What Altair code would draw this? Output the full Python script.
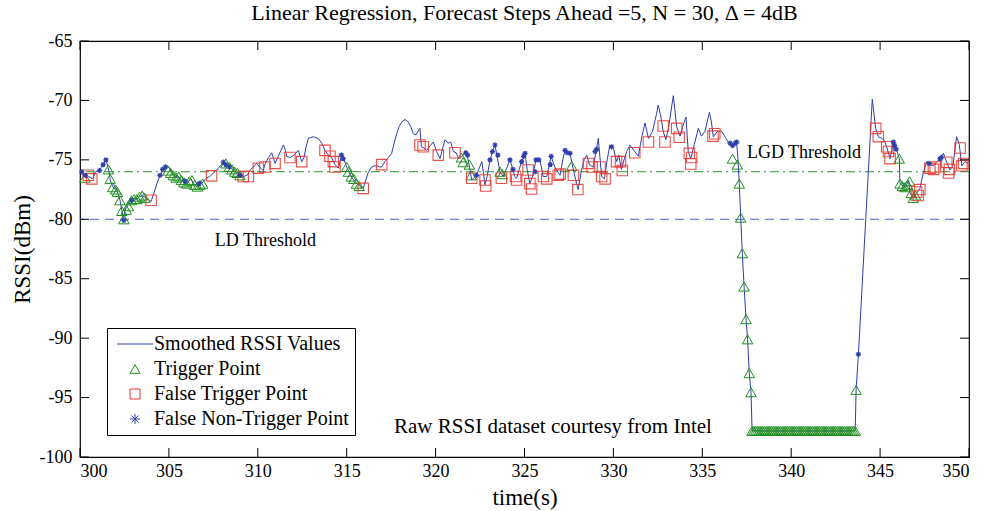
import altair as alt
import pandas as pd

# ---------------- data ----------------
line_t = [300.05, 300.2, 300.35, 300.5, 300.7, 300.9, 301.07, 301.2, 301.35, 301.46, 301.55, 301.62, 301.7, 301.8,
          301.9, 302.05, 302.15, 302.25, 302.35, 302.44, 302.52, 302.6, 302.7, 302.8, 302.9, 303.05, 303.2, 303.35,
          303.5, 303.6, 303.75, 303.9, 304.0, 304.2, 304.35, 304.5, 304.65, 304.78, 304.9, 305.0, 305.15, 305.25,
          305.4, 305.55, 305.7, 305.8, 305.95, 306.1, 306.25, 306.4, 306.56, 306.7, 306.84, 307.0, 307.1, 307.3,
          307.5, 307.7, 307.9, 308.06, 308.2, 308.4, 308.55, 308.7, 308.9, 309.05, 309.2, 309.4, 309.6, 309.75,
          309.94, 310.1, 310.3, 310.4, 310.6, 310.78, 310.97, 311.15, 311.3, 311.44, 311.55, 311.62, 311.8, 311.95,
          312.1, 312.28, 312.47, 312.6, 312.7, 312.84, 313.12, 313.4, 313.6, 313.78, 313.97, 314.15, 314.34, 314.53,
          314.72, 314.85, 315.0, 315.15, 315.3, 315.45, 315.6, 315.75, 315.93, 316.05, 316.2, 316.4, 316.55, 316.7,
          316.85, 316.96, 317.15, 317.35, 317.53, 317.7, 317.81, 317.95, 318.1, 318.28, 318.45, 318.6, 318.75, 318.9,
          319.05, 319.12, 319.2, 319.35, 319.5, 319.7, 319.87, 320.06, 320.25, 320.4, 320.53, 320.7, 320.85, 321.0,
          321.15, 321.3, 321.5, 321.66, 321.8, 321.9, 322.03, 322.15, 322.3, 322.45, 322.6, 322.7, 322.78, 322.9,
          323.06, 323.2, 323.34, 323.48, 323.62, 323.8, 324.0, 324.18, 324.35, 324.45, 324.56, 324.7, 324.84, 325.03,
          325.15, 325.3, 325.45, 325.65, 325.85, 326.05, 326.25, 326.5, 326.7, 327.0, 327.15, 327.28, 327.45, 327.56,
          327.75, 327.93, 328.02, 328.2, 328.35, 328.5, 328.65, 328.85, 329.0, 329.15, 329.34, 329.5, 329.65, 329.8,
          330.0, 330.18, 330.3, 330.45, 330.6, 330.75, 330.93, 331.15, 331.4, 331.6, 331.78, 331.97, 332.2, 332.43,
          332.52, 332.65, 332.8, 332.95, 333.1, 333.37, 333.56, 333.75, 333.9, 334.08, 334.21, 334.35, 334.55, 334.78,
          334.95, 335.15, 335.4, 335.5, 335.62, 335.85, 336.09, 336.3, 336.45, 336.56, 336.7, 336.85, 336.93, 337.0,
          337.08, 337.16, 337.25, 337.35, 337.46, 337.55, 337.64, 337.74, 337.8, 343.6, 343.65, 343.78, 344.56,
          344.75, 344.9, 345.1, 345.25, 345.37, 345.56, 345.75, 345.9, 346.08, 346.12, 346.3, 346.45, 346.6, 346.68,
          346.87, 347.05, 347.24, 347.43, 347.62, 347.8, 348.0, 348.2, 348.37, 348.56, 348.75, 348.93, 349.1, 349.3,
          349.45, 349.6, 349.77, 349.95]
line_v = [-76.1, -76.3, -76.5, -76.4, -76.6, -76.0, -75.9, -75.6, -75.3, -75.0, -75.5, -75.9, -76.7, -77.1,
          -77.4, -77.5, -77.9, -78.4, -79.2, -80.1, -79.3, -79.0, -78.8, -78.5, -78.4, -78.2, -78.3, -78.1,
          -78.0, -78.1, -78.3, -78.4, -78.5, -77.6, -76.9, -76.3, -75.8, -75.6, -75.5, -75.6, -76.0, -76.3,
          -76.5, -76.4, -76.7, -76.8, -77.0, -76.8, -76.6, -77.0, -77.25, -77.1, -77.0, -76.7, -76.55, -76.4,
          -76.1, -75.85, -75.5, -75.2, -75.3, -75.6, -75.8, -76.0, -76.1, -76.3, -76.4, -76.3, -75.8, -75.6,
          -75.3, -75.6, -75.9, -75.4, -74.8, -74.4, -75.3, -74.7, -74.2, -73.75, -74.2, -74.7, -74.8, -74.7,
          -74.5, -74.2, -75.15, -74.8, -74.0, -73.2, -73.05, -73.2, -73.6, -74.2, -74.6, -74.8, -75.4, -75.7,
          -74.6, -75.0, -75.6, -76.1, -76.5, -76.8, -77.0, -77.25, -77.4, -76.8, -76.1, -75.6, -75.5, -75.5,
          -75.6, -75.6, -75.15, -74.8, -74.45, -73.4, -72.8, -72.2, -71.8, -71.6, -71.8, -72.2, -72.8, -72.9,
          -72.5, -72.35, -73.9, -74.0, -74.2, -73.8, -73.5, -74.3, -74.9, -74.0, -73.3, -73.6, -73.5, -74.3,
          -74.4, -74.9, -74.7, -74.3, -74.8, -75.5, -76.7, -76.5, -76.3, -75.7, -75.15, -76.2, -77.1, -76.4,
          -75.0, -74.3, -73.75, -74.9, -76.0, -76.4, -75.7, -75.0, -75.8, -76.4, -76.55, -75.8, -75.15, -74.45,
          -75.8, -77.0, -76.4, -75.0, -74.9, -76.4, -76.4, -74.7, -75.6, -76.3, -75.0, -74.2, -74.4, -74.45,
          -75.85, -77.0, -77.5, -75.9, -75.0, -74.6, -75.4, -75.6, -74.5, -73.2, -76.4, -76.6, -75.0, -73.75,
          -74.0, -75.15, -74.6, -75.8, -75.0, -74.3, -73.75, -74.2, -74.7, -73.05, -71.9, -73.2, -72.6, -71.1,
          -70.4, -71.2, -72.6, -73.3, -72.3, -69.6, -72.2, -73.0, -72.2, -71.4, -74.3, -74.9, -73.7, -72.35,
          -73.0, -72.6, -71.0, -71.7, -73.05, -72.6, -72.6, -73.1, -73.5, -73.6, -74.0, -73.7, -73.5, -74.8,
          -77.0, -79.86, -82.86, -85.66, -88.4, -90.1, -92.95, -94.55, -97.8, -97.8, -94.35, -91.35, -69.9,
          -72.35, -73.05, -73.2, -73.4, -73.9, -74.9, -73.5, -74.0, -74.9, -77.0, -77.2, -77.3, -76.7, -77.8,
          -78.2, -77.8, -77.4, -76.1, -75.15, -75.4, -75.5, -75.15, -74.9, -74.45, -75.2, -75.85, -75.5, -73.05,
          -73.7, -75.5, -75.15, -75.3]

trig_t = [300.28, 301.6, 301.7, 301.84, 302.0, 302.1, 302.25, 302.35, 302.47, 302.6, 302.72, 302.9, 303.05,
          303.2, 303.35, 303.5, 303.65, 304.95, 305.1, 305.25, 305.4, 305.55, 305.7, 305.85, 306.0, 306.15,
          306.3, 306.45, 306.6, 306.75, 306.9, 308.2, 308.4, 308.55, 308.7, 308.85, 309.0, 315.0, 315.1,
          315.25, 315.4, 315.55, 315.7, 321.45, 321.55, 321.9, 322.0, 323.62, 323.75, 327.65, 336.7, 336.97,
          337.08, 337.16, 337.25, 337.35, 337.46, 337.55, 337.64, 337.74,
          337.8, 337.9, 338.0, 338.1, 338.2, 338.3, 338.4, 338.5, 338.6, 338.7, 338.8, 338.9, 339.0, 339.1,
          339.2, 339.3, 339.4, 339.5, 339.6, 339.7, 339.8, 339.9, 340.0, 340.1, 340.2, 340.3, 340.4, 340.5,
          340.6, 340.7, 340.8, 340.9, 341.0, 341.1, 341.2, 341.3, 341.4, 341.5, 341.6, 341.7, 341.8, 341.9,
          342.0, 342.1, 342.2, 342.3, 342.4, 342.5, 342.6, 342.7, 342.8, 342.9, 343.0, 343.1, 343.2, 343.3,
          343.4, 343.5, 343.6,
          343.65, 346.08, 346.12, 346.25, 346.4, 346.55, 346.65, 346.75, 346.87, 347.0]
trig_v = [-76.5, -75.8, -76.6, -77.3, -77.5, -77.7, -78.4, -79.3, -80.0, -79.2, -78.9, -78.4, -78.3,
          -78.3, -78.1, -78.0, -78.2, -75.9, -76.1, -76.3, -76.5, -76.4, -76.7, -76.9, -77.0, -76.8,
          -76.7, -77.1, -77.25, -77.1, -77.0, -75.3, -75.6, -75.8, -76.0, -76.1, -76.3, -75.6, -76.0,
          -76.4, -76.6, -77.0, -77.2, -74.8, -75.2, -75.4, -76.3, -76.0, -76.2, -75.5, -74.9, -75.4,
          -77.0, -79.86, -82.86, -85.66, -88.4, -90.1, -92.95, -94.55,
          -97.8, -97.8, -97.8, -97.8, -97.8, -97.8, -97.8, -97.8, -97.8, -97.8, -97.8, -97.8, -97.8, -97.8,
          -97.8, -97.8, -97.8, -97.8, -97.8, -97.8, -97.8, -97.8, -97.8, -97.8, -97.8, -97.8, -97.8, -97.8,
          -97.8, -97.8, -97.8, -97.8, -97.8, -97.8, -97.8, -97.8, -97.8, -97.8, -97.8, -97.8, -97.8, -97.8,
          -97.8, -97.8, -97.8, -97.8, -97.8, -97.8, -97.8, -97.8, -97.8, -97.8, -97.8, -97.8, -97.8, -97.8,
          -97.8, -97.8, -97.8,
          -94.35, -74.9, -77.0, -77.2, -77.3, -77.1, -76.8, -77.8, -78.2, -78.0]

false_t = [300.47, 300.66, 304.0, 307.4, 309.18, 309.47, 310.03, 310.4, 310.97, 311.81, 312.47, 313.78, 314.06,
           314.25, 314.34, 315.93, 316.97, 319.12, 319.3, 320.15, 321.09, 322.03, 322.78, 322.82, 323.7, 324.5,
           324.56, 325.2, 325.3, 325.4, 326.06, 326.25, 326.9, 327.0, 327.75, 328.0, 328.6, 328.8, 329.25,
           329.34, 329.53, 330.18, 330.4, 330.5, 331.2, 331.97, 332.8, 332.9, 333.56, 333.7, 334.27, 334.4,
           334.35, 335.6, 335.7, 344.75, 344.9, 345.37, 345.47, 345.56, 347.05, 347.15, 347.24, 347.8, 348.0,
           348.1, 348.75, 348.9, 348.85, 349.5, 349.6, 349.7]
false_v = [-76.3, -76.6, -78.4, -76.35, -76.4, -76.4, -75.7, -75.6, -75.3, -74.8, -75.15, -74.2, -74.7,
           -75.15, -75.6, -77.4, -75.4, -73.75, -73.9, -74.6, -74.4, -76.55, -76.7, -77.2, -76.55, -76.4,
           -76.7, -75.85, -77.0, -77.45, -76.4, -76.6, -76.3, -76.2, -76.3, -77.5, -75.3, -75.6, -75.6,
           -76.4, -76.6, -75.15, -75.15, -75.9, -74.4, -73.5, -72.15, -73.5, -72.35, -73.1, -74.45, -74.8,
           -75.35, -73.0, -72.8, -72.35, -73.05, -73.9, -74.3, -74.9, -77.7, -78.0, -77.5, -75.7, -75.8,
           -75.6, -75.2, -75.8, -76.1, -74.0, -75.5, -75.3]

fnt_t = [300.1, 300.3, 301.1, 301.3, 301.46, 302.47, 302.9, 304.5, 304.65, 304.8, 305.9, 306.7, 308.06, 308.2,
         308.4, 309.0, 314.7, 314.8, 321.7, 321.8, 322.3, 323.06, 323.2, 323.34, 323.5, 324.18, 324.35, 324.84,
         324.95, 325.03, 325.6, 325.65, 325.8, 326.45, 326.5, 327.28, 327.4, 327.56, 328.97, 329.06, 329.9,
         336.56, 336.7, 336.85, 336.93, 343.78, 345.75, 345.82, 345.9, 347.75, 348.37, 348.45]
fnt_v = [-76.0, -76.3, -75.9, -75.4, -75.0, -80.1, -78.4, -76.3, -75.8, -75.6, -76.8, -77.0, -75.2, -75.4,
         -75.6, -76.3, -74.6, -74.9, -74.4, -74.6, -76.3, -75.0, -74.3, -73.75, -74.6, -75.0, -75.8, -75.15,
         -74.7, -74.45, -76.0, -75.0, -75.0, -75.4, -74.7, -74.2, -74.4, -74.45, -74.3, -74.1, -73.9,
         -73.6, -73.8, -73.6, -73.5, -91.35, -73.5, -73.8, -74.1, -75.3, -74.9, -74.8]

series_names = ["Smoothed RSSI Values", "Trigger Point", "False Trigger Point", "False Non-Trigger Point"]
x_ticks = [300, 305, 310, 315, 320, 325, 330, 335, 340, 345, 350]
y_ticks = [-100, -95, -90, -85, -80, -75, -70, -65]
ld_threshold = -80
lgd_threshold = -76
notes_text = ["LD Threshold", "LGD Threshold", "Raw RSSI dataset courtesy from Intel"]
notes_t = [310.43, 340.72, 326.6]
notes_v = [-81.8, -74.42, -97.46]
notes_size = [18, 18, 21]

# ---------------- styling ----------------
FONT = "Liberation Serif"
W, H = 889, 416
BLUE = "#2e3fad"
GREEN = "#1f8f1f"
RED = "#e8322a"
STAR_PATH = "M-1,0L1,0M0,-1L0,1M-0.7,-0.7L0.7,0.7M-0.7,0.7L0.7,-0.7"
LINE_PATH = "M-3.6,0L3.6,0"

line_df = pd.DataFrame({"t": line_t, "v": line_v, "series": series_names[0]})
trig_df = pd.DataFrame({"t": trig_t, "v": trig_v, "series": series_names[1]})
false_df = pd.DataFrame({"t": false_t, "v": false_v, "series": series_names[2]})
fnt_df = pd.DataFrame({"t": fnt_t, "v": fnt_v, "series": series_names[3]})
notes_df = pd.DataFrame({"t": notes_t, "v": notes_v, "label": notes_text, "fs": notes_size})
xt_df = pd.DataFrame({"t": x_ticks})
yt_df = pd.DataFrame({"v": y_ticks})

xscale = alt.Scale(domain=[300, 350], nice=False, zero=False)
yscale = alt.Scale(domain=[-100, -65], nice=False, zero=False)
xaxis = alt.Axis(values=x_ticks, labelExpr="'' + datum.value", domain=False, ticks=False, grid=False,
                 labelPadding=5, titlePadding=6, titleFontSize=23, labelFontSize=18, labelFont=FONT,
                 titleFont=FONT, labelColor="black", titleColor="black", titleFontWeight="normal")
yaxis = alt.Axis(values=y_ticks, labelExpr="'' + datum.value", domain=False, ticks=False, grid=False,
                 labelPadding=8, titlePadding=5, titleFontSize=23, labelFontSize=18, labelFont=FONT,
                 titleFont=FONT, labelColor="black", titleColor="black", titleFontWeight="normal")


def X(field="t"):
    return alt.X(f"{field}:Q", scale=xscale, axis=xaxis, title="time(s)")


def Y(field="v"):
    return alt.Y(f"{field}:Q", scale=yscale, axis=yaxis, title="RSSI(dBm)")


legend = alt.Legend(orient="none", legendX=27, legendY=287, title=None, strokeColor="black", fillColor="white",
                    padding=6, symbolSize=100, symbolStrokeWidth=1, labelFont=FONT, labelFontSize=20,
                    labelColor="black", rowPadding=5, symbolOffset=12, labelOffset=9, cornerRadius=0,
                    labelLimit=400)
cscale = alt.Scale(domain=series_names, range=[BLUE, GREEN, RED, BLUE])
sscale = alt.Scale(domain=series_names, range=[LINE_PATH, "triangle-up", "square", STAR_PATH])
COLOR = alt.Color("series:N", scale=cscale, legend=legend)
SHAPE = alt.Shape("series:N", scale=sscale, legend=legend)

ld = alt.Chart(pd.DataFrame({"v": [ld_threshold]})).mark_rule(
    color="#4a62d0", strokeDash=[9, 6], strokeWidth=1).encode(y=Y())
lgd = alt.Chart(pd.DataFrame({"v": [lgd_threshold]})).mark_rule(
    color="#2f8f2f", strokeDash=[9, 4, 2, 4], strokeWidth=1).encode(y=Y())

line = alt.Chart(line_df).mark_line(strokeWidth=1, interpolate="linear").encode(
    x=X(), y=Y(), color=COLOR, order="t:Q")
trig = alt.Chart(trig_df).mark_point(filled=False, size=110, strokeWidth=1, opacity=1, clip=False).encode(
    x=X(), y=Y(), color=COLOR, shape=SHAPE)
false = alt.Chart(false_df).mark_point(filled=False, size=110, strokeWidth=1.1, opacity=0.85, clip=False).encode(
    x=X(), y=Y(), color=COLOR, shape=SHAPE)
fnt = alt.Chart(fnt_df).mark_point(filled=False, size=28, strokeWidth=1.2, opacity=1, clip=False).encode(
    x=X(), y=Y(), color=COLOR, shape=SHAPE)

notes = alt.Chart(notes_df).mark_text(font=FONT, color="black", align="center", baseline="middle").encode(
    x=X(), y=Y(), text="label:N", size=alt.Size("fs:Q", scale=None, legend=None))

TL = 9
tick_top = alt.Chart(xt_df).mark_rule(color="black", strokeWidth=1).encode(
    x=X(), y=alt.value(0), y2=alt.value(TL))
tick_bot = alt.Chart(xt_df).mark_rule(color="black", strokeWidth=1).encode(
    x=X(), y=alt.value(H), y2=alt.value(H - TL))
tick_left = alt.Chart(yt_df).mark_rule(color="black", strokeWidth=1).encode(
    y=Y(), x=alt.value(0), x2=alt.value(TL))
tick_right = alt.Chart(yt_df).mark_rule(color="black", strokeWidth=1).encode(
    y=Y(), x=alt.value(W), x2=alt.value(W - TL))

chart = alt.layer(
    ld, lgd, line, trig, false, fnt, notes, tick_top, tick_bot, tick_left, tick_right
).resolve_scale(color="shared", shape="shared").properties(
    width=W, height=H,
    background="white",
    padding={"left": 80, "top": 41, "right": 31, "bottom": 54},
    autosize=alt.AutoSizeParams(type="none"),
    title=alt.TitleParams("Linear Regression, Forecast Steps Ahead =5, N = 30,  \u0394 = 4dB",
                          font=FONT, fontSize=22, fontWeight="normal", color="black", offset=7,
                          anchor="middle"),
).configure_view(stroke="black", strokeWidth=1.2)

chart.save("out.html", embed_options={"renderer": "svg", "actions": False})
